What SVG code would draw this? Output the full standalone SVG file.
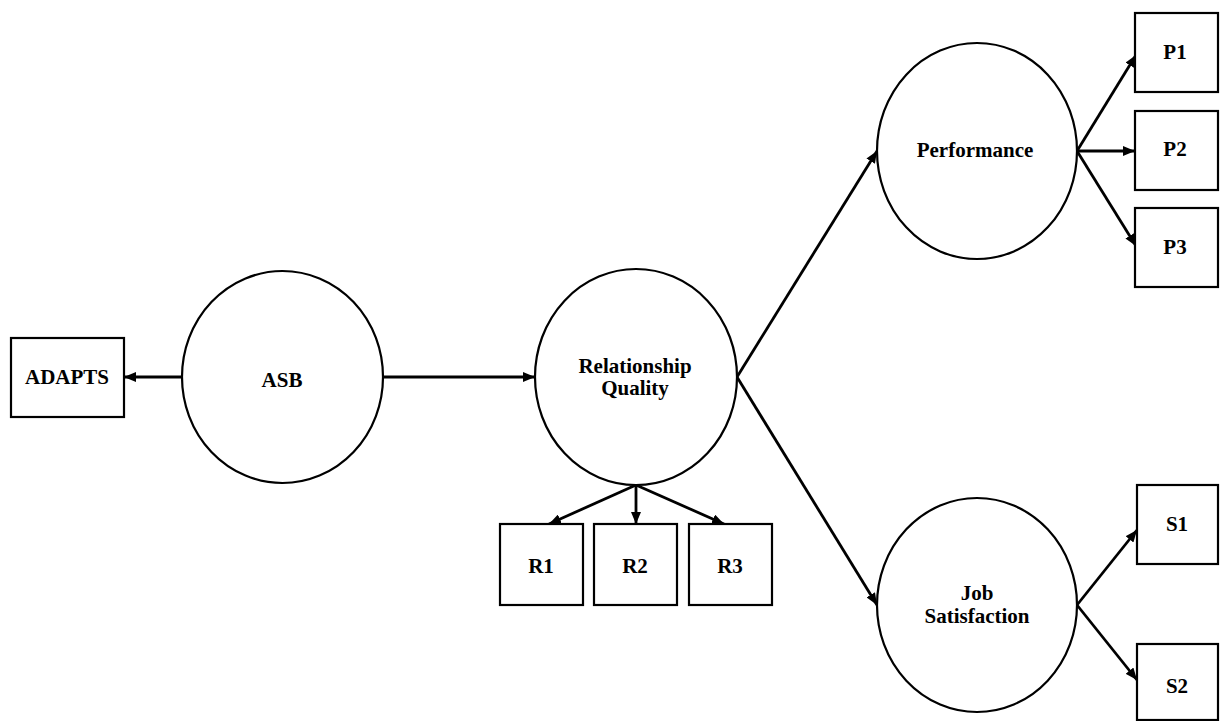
<svg xmlns="http://www.w3.org/2000/svg" width="1220" height="721" viewBox="0 0 1220 721">
<style>
.n{fill:#fff;stroke:#000;stroke-width:2.2}
.t{font-family:"Liberation Serif","Times New Roman",serif;font-weight:bold;font-size:21px;fill:#000;text-anchor:middle}
.e{stroke:#000;stroke-width:2.8;fill:none;marker-end:url(#ah)}
</style>
<defs>
<marker id="ah" viewBox="0 0 12 10" refX="12" refY="5" markerWidth="12" markerHeight="10" markerUnits="userSpaceOnUse" orient="auto">
<path d="M0,0 L12,5 L0,10 Z" fill="#000"/>
</marker>
</defs>
<rect width="1220" height="721" fill="#fff"/>
<g id="connectors">
<line class="e" x1="182" y1="377" x2="124" y2="377"/>
<line class="e" x1="383" y1="377" x2="535" y2="377"/>
<line class="e" x1="636" y1="485" x2="549" y2="524"/>
<line class="e" x1="636" y1="485" x2="636" y2="524"/>
<line class="e" x1="636" y1="485" x2="724" y2="524"/>
<line class="e" x1="737" y1="377" x2="877" y2="151"/>
<line class="e" x1="737" y1="377" x2="877" y2="605"/>
<line class="e" x1="1077" y1="151" x2="1136" y2="55"/>
<line class="e" x1="1077" y1="151" x2="1135" y2="151"/>
<line class="e" x1="1077" y1="151" x2="1136" y2="246"/>
<line class="e" x1="1077" y1="605" x2="1137" y2="530"/>
<line class="e" x1="1077" y1="605" x2="1137" y2="680"/>
</g>
<g id="ADAPTS"><rect class="n" x="11" y="338" width="113" height="79"/><text class="t" x="67" y="384">ADAPTS</text></g>
<g id="ASB"><ellipse class="n" cx="282.5" cy="377" rx="100.5" ry="106"/><text class="t" x="282" y="387">ASB</text></g>
<g id="RQ"><ellipse class="n" cx="636" cy="377" rx="101" ry="108"/><text class="t" x="635" y="373">Relationship</text><text class="t" x="635" y="395">Quality</text></g>
<g id="R1"><rect class="n" x="500" y="524" width="83" height="81"/><text class="t" x="541" y="573">R1</text></g>
<g id="R2"><rect class="n" x="594" y="524" width="83" height="81"/><text class="t" x="635" y="573">R2</text></g>
<g id="R3"><rect class="n" x="689" y="524" width="83" height="81"/><text class="t" x="730" y="573">R3</text></g>
<g id="Performance"><ellipse class="n" cx="977" cy="151" rx="100" ry="108"/><text class="t" x="975" y="157">Performance</text></g>
<g id="P1"><rect class="n" x="1135" y="13" width="83" height="79"/><text class="t" x="1175" y="59">P1</text></g>
<g id="P2"><rect class="n" x="1135" y="111" width="83" height="79"/><text class="t" x="1175" y="156">P2</text></g>
<g id="P3"><rect class="n" x="1135" y="208" width="83" height="79"/><text class="t" x="1175" y="254">P3</text></g>
<g id="JobSatisfaction"><ellipse class="n" cx="977" cy="605" rx="100" ry="107"/><text class="t" x="977" y="600">Job</text><text class="t" x="977" y="623">Satisfaction</text></g>
<g id="S1"><rect class="n" x="1137" y="485" width="81" height="79"/><text class="t" x="1177" y="531">S1</text></g>
<g id="S2"><rect class="n" x="1137" y="644" width="81" height="76"/><text class="t" x="1177" y="693">S2</text></g>
</svg>
